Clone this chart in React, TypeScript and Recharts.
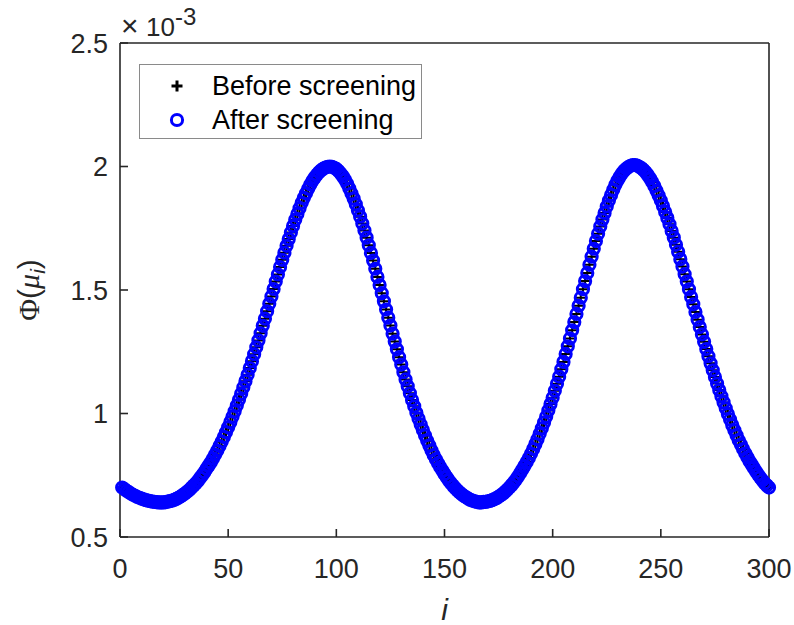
import React from 'react';
import { ScatterChart, Scatter, XAxis, YAxis, Legend } from 'recharts';

// index i (category axis)
const indices: number[] = Array.from({ length: 300 }, (_, k) => k + 1);

// Phi(mu_i), in units of 1e-3
const phiValues: number[] = [
  0.700, 0.694, 0.687, 0.682, 0.676, 0.671, 0.667, 0.662, 0.659, 0.655,
  0.652, 0.649, 0.647, 0.645, 0.643, 0.642, 0.641, 0.640, 0.640,
  0.640, 0.641, 0.643, 0.645, 0.647, 0.650, 0.654, 0.659, 0.664, 0.670,
  0.676, 0.683, 0.690, 0.699, 0.708, 0.717, 0.727, 0.739, 0.750, 0.762,
  0.776, 0.789, 0.803, 0.818, 0.834, 0.850, 0.868, 0.886, 0.905, 0.924,
  0.944, 0.965, 0.987, 1.009, 1.032, 1.056, 1.080, 1.105, 1.131, 1.157,
  1.184, 1.212, 1.240, 1.268, 1.296, 1.325, 1.355, 1.384, 1.414, 1.444,
  1.474, 1.504, 1.534, 1.563, 1.593, 1.622, 1.651, 1.679, 1.706, 1.733,
  1.759, 1.784, 1.808, 1.831, 1.853, 1.873, 1.892, 1.910, 1.927, 1.942,
  1.955, 1.967, 1.977, 1.985, 1.991, 1.996, 1.999, 2.000,
  1.999, 1.995, 1.990, 1.982, 1.972, 1.960, 1.946, 1.930, 1.911, 1.891,
  1.870, 1.847, 1.822, 1.797, 1.769, 1.741, 1.712, 1.681, 1.650, 1.619,
  1.586, 1.553, 1.520, 1.487, 1.454, 1.421, 1.388, 1.356, 1.323, 1.291,
  1.260, 1.228, 1.198, 1.167, 1.138, 1.110, 1.082, 1.055, 1.029, 1.003,
  0.979, 0.955, 0.933, 0.911, 0.890, 0.870, 0.850, 0.832, 0.815, 0.799,
  0.783, 0.769, 0.755, 0.742, 0.729, 0.718, 0.707, 0.697, 0.688, 0.680,
  0.673, 0.666, 0.661, 0.655, 0.650, 0.647, 0.644, 0.642, 0.640, 0.640,
  0.642, 0.642, 0.644, 0.646, 0.649, 0.653, 0.657, 0.663, 0.669, 0.675,
  0.683, 0.691, 0.700, 0.710, 0.721, 0.732, 0.745, 0.759, 0.773, 0.788,
  0.804, 0.820, 0.837, 0.856, 0.876, 0.896, 0.918, 0.940, 0.963, 0.987,
  1.012, 1.038, 1.064, 1.092, 1.120, 1.149, 1.179, 1.209, 1.241, 1.272,
  1.304, 1.337, 1.370, 1.403, 1.436, 1.469, 1.503, 1.536, 1.569, 1.602,
  1.635, 1.667, 1.698, 1.728, 1.757, 1.785, 1.812, 1.838, 1.862, 1.885,
  1.906, 1.926, 1.943, 1.958, 1.972, 1.983, 1.991, 1.998, 2.003, 2.006,
  2.006, 2.004, 1.999, 1.994, 1.986, 1.977, 1.965, 1.952, 1.937, 1.921,
  1.902, 1.883, 1.862, 1.840, 1.816, 1.792, 1.766, 1.739, 1.712, 1.683,
  1.655, 1.625, 1.595, 1.564, 1.534, 1.503, 1.472, 1.442, 1.411, 1.380,
  1.350, 1.320, 1.290, 1.261, 1.232, 1.203, 1.175, 1.148, 1.121, 1.095,
  1.070, 1.045, 1.021, 0.998, 0.976, 0.953, 0.932, 0.912, 0.892, 0.874,
  0.856, 0.839, 0.823, 0.807, 0.793, 0.779, 0.765, 0.752, 0.740, 0.729,
  0.718, 0.709, 0.700,
];

const xTicks: number[] = [0, 50, 100, 150, 200, 250, 300];
const yTicks: number[] = [0.5, 1, 1.5, 2, 2.5];
const seriesNames: string[] = ['Before screening', 'After screening'];

const data = indices.map((i, k) => ({ i, phi: phiValues[k] }));

const AXIS = '#262626';
const FONT = '"Liberation Sans", Arial, Helvetica, sans-serif';
const SERIF = '"Liberation Serif", "Times New Roman", serif';
const BLUE = '#0000ff';

const PlusShape = (props: any) => {
  const { cx, cy } = props;
  if (cx == null || cy == null) return null;
  return (
    <path
      d={`M${cx - 5},${cy}H${cx + 5}M${cx},${cy - 5}V${cy + 5}`}
      stroke="#000"
      strokeWidth={2}
      fill="none"
    />
  );
};

const CircleShape = (props: any) => {
  const { cx, cy } = props;
  if (cx == null || cy == null) return null;
  return <circle cx={cx} cy={cy} r={5.6} fill="none" stroke={BLUE} strokeWidth={3} />;
};

const LegendBox = () => (
  <div
    style={{
      width: 283,
      height: 75,
      border: '1px solid #8a8a8a',
      background: '#fff',
      boxSizing: 'border-box',
    }}
  >
    <svg width={281} height={73} style={{ display: 'block' }}>
      <path d="M31.5,21H42.5M37,15.5V26.5" stroke="#000" strokeWidth={3} fill="none" />
      <text x={72} y={30} fontFamily={FONT} fontSize={27} fill="#000">
        {seriesNames[0]}
      </text>
      <circle cx={37} cy={55} r={5.6} fill="none" stroke={BLUE} strokeWidth={3} />
      <text x={72} y={64} fontFamily={FONT} fontSize={27} fill="#000">
        {seriesNames[1]}
      </text>
    </svg>
  </div>
);

const XLabel = (props: any) => {
  const vb = props.viewBox || { x: 120, y: 537, width: 649, height: 88 };
  return (
    <text
      x={vb.x + vb.width / 2}
      y={vb.y + 83}
      textAnchor="middle"
      fontFamily={FONT}
      fontStyle="italic"
      fontSize={30}
      fill={AXIS}
    >
      i
    </text>
  );
};

const YLabel = (props: any) => {
  const vb = props.viewBox || { x: 0, y: 43, width: 120, height: 494 };
  const cy = vb.y + vb.height / 2;
  return (
    <g>
      <text
        transform="rotate(-90)"
        x={-cy}
        y={39}
        textAnchor="middle"
        fontFamily={FONT}
        fontSize={30}
        fill={AXIS}
      >
        <tspan fontFamily={SERIF}>Φ</tspan>
        <tspan>(</tspan>
        <tspan fontFamily={SERIF} fontStyle="italic">μ</tspan>
        <tspan fontStyle="italic" fontSize={21} dy={6}>i</tspan>
        <tspan dy={-6}>)</tspan>
      </text>
      <text x={121} y={36} fontFamily={FONT} fontSize={30} fill={AXIS}>
        ×
      </text>
      <text x={146} y={36} fontFamily={FONT} fontSize={26} fill={AXIS}>
        10
      </text>
      <text x={175} y={25} fontFamily={FONT} fontSize={24} fill={AXIS}>
        -3
      </text>
    </g>
  );
};

export default function App() {
  const axisLine = { stroke: AXIS, strokeWidth: 1.6 };
  const tickLine = { stroke: AXIS, strokeWidth: 1.6 };
  const tickStyle = { fill: AXIS, fontSize: 27, fontFamily: FONT };
  return (
    <div style={{ position: 'absolute', left: 0, top: 0, width: 794, height: 625, background: '#fff' }}>
      <ScatterChart width={794} height={625} margin={{ top: 23, right: 5, bottom: 0, left: 0 }}>
        <XAxis
          xAxisId="b"
          dataKey="i"
          type="number"
          domain={[0, 300]}
          ticks={xTicks}
          interval={0}
          height={88}
          axisLine={axisLine}
          tickLine={tickLine}
          tickSize={-8}
          tickMargin={30}
          tick={tickStyle}
          label={{ content: <XLabel /> } as any}
        />
        <XAxis
          xAxisId="t"
          orientation="top"
          type="number"
          domain={[0, 300]}
          ticks={xTicks}
          interval={0}
          height={20}
          axisLine={axisLine}
          tickLine={tickLine}
          tickSize={-8}
          tick={false}
        />
        <YAxis
          yAxisId="l"
          dataKey="phi"
          type="number"
          domain={[0.5, 2.5]}
          ticks={yTicks}
          interval={0}
          width={120}
          axisLine={axisLine}
          tickLine={tickLine}
          tickSize={-8}
          tickMargin={20}
          tick={tickStyle}
          tickFormatter={(v: number) => String(v)}
          label={{ content: <YLabel /> } as any}
        />
        <YAxis
          yAxisId="r"
          orientation="right"
          type="number"
          domain={[0.5, 2.5]}
          ticks={yTicks}
          interval={0}
          width={20}
          axisLine={axisLine}
          tickLine={tickLine}
          tickSize={-8}
          tick={false}
        />
        <Scatter
          name={seriesNames[0]}
          data={data}
          xAxisId="b"
          yAxisId="l"
          dataKey="phi"
          shape={<PlusShape />}
          isAnimationActive={false}
        />
        <Scatter
          name={seriesNames[1]}
          data={data}
          xAxisId="b"
          yAxisId="l"
          dataKey="phi"
          shape={<CircleShape />}
          isAnimationActive={false}
        />
        <Legend
          layout="vertical"
          align="center"
          verticalAlign="middle"
          content={<LegendBox />}
          wrapperStyle={{ left: 139, top: 64, width: 283, height: 75 }}
        />
      </ScatterChart>
    </div>
  );
}
